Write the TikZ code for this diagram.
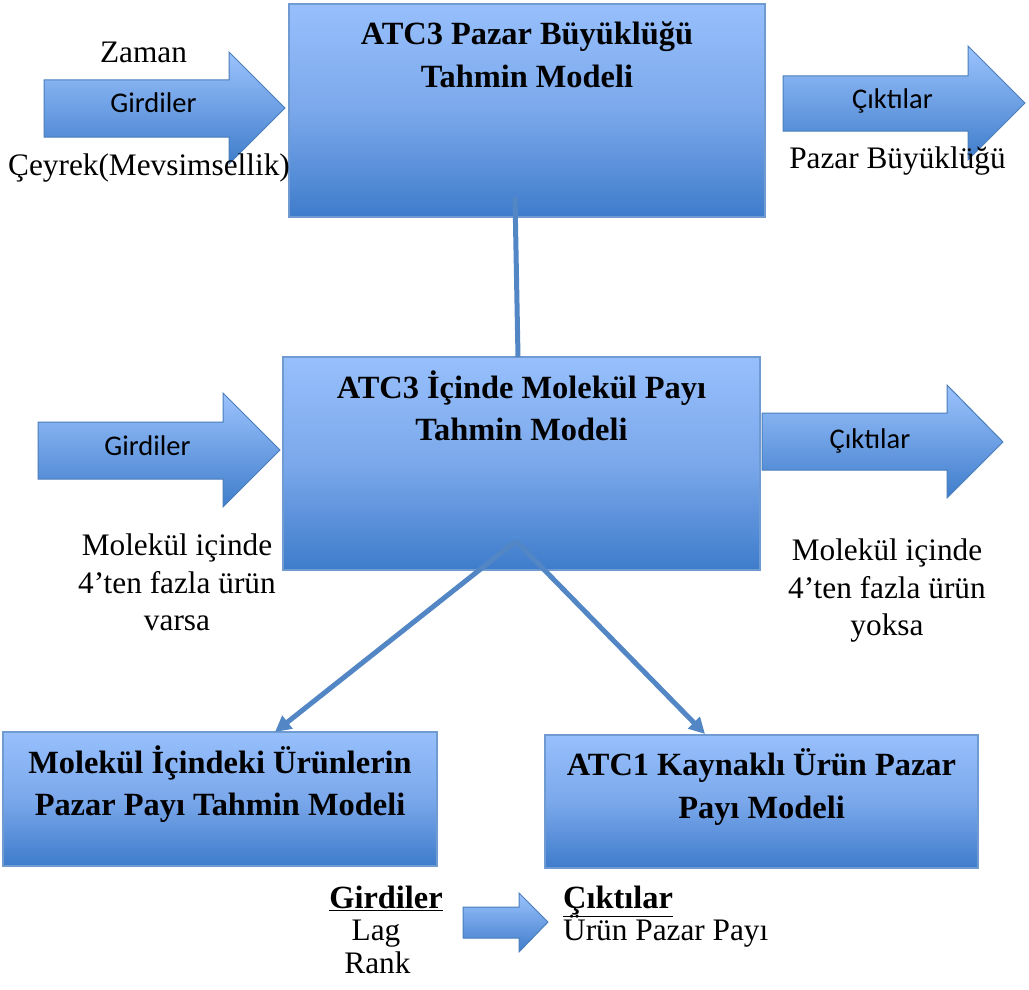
\documentclass[tikz,border=0pt]{standalone}
\usepackage{fontspec}
\setmainfont{Liberation Serif}
\newfontfamily\labelsans{Carlito}
\usetikzlibrary{arrows.meta}

\definecolor{boxtop}{HTML}{97BFFC}
\definecolor{boxmid}{HTML}{7BA8EB}
\definecolor{boxbot}{HTML}{3E7CCB}
\definecolor{boxedge}{HTML}{6F9AD2}
\definecolor{arrtop}{HTML}{9CC3FD}
\definecolor{arrbot}{HTML}{3F7DCB}
\definecolor{arredge}{HTML}{4A7EBB}
\definecolor{linkblue}{HTML}{5386C4}

\tikzset{
  box/.style={rectangle, draw=boxedge, line width=1.2pt, inner sep=0pt,
    top color=boxtop, bottom color=boxbot, middle color=boxmid},
  flow/.style={draw=arredge, line width=1pt, top color=arrtop, bottom color=arrbot},
  title/.style={font=\bfseries\fontsize{32.4}{38}\selectfont, anchor=base, inner sep=0pt},
  plain/.style={font=\fontsize{31.3}{37}\selectfont, anchor=base, inner sep=0pt},
  tag/.style={font=\labelsans\fontsize{28.5}{34}\selectfont, anchor=base, inner sep=0pt},
  link/.style={draw=linkblue, line width=5pt},
  linkarrow/.style={link, -{Triangle[length=16pt,width=16pt]}},
}

\begin{document}
\begin{tikzpicture}[x=1pt,y=-1pt]
\useasboundingbox (0,0) rectangle (1029,990);

% model boxes
\node[box, minimum width=476pt, minimum height=213pt] (size) at (527,110.5) {};
\node[box, minimum width=477pt, minimum height=213pt] (share) at (521.5,463.5) {};
\node[box, minimum width=434pt, minimum height=134pt] (prod) at (220,799) {};
\node[box, minimum width=433pt, minimum height=133pt] (atc1) at (761.5,801.5) {};

% block arrows: inputs and outputs
\path[flow] (44,80) -- (229,80) -- (229,52) -- (285,108) -- (229,164) -- (229,137) -- (44,137) -- cycle;
\path[flow] (783,76) -- (968,76) -- (968,46) -- (1025,103) -- (968,160) -- (968,131) -- (783,131) -- cycle;
\path[flow] (38,422) -- (223,422) -- (223,393) -- (280,450) -- (223,507) -- (223,479) -- (38,479) -- cycle;
\path[flow] (762,413) -- (947,413) -- (947,385) -- (1003,442) -- (947,498) -- (947,470) -- (762,470) -- cycle;
\path[flow] (463,907) -- (519,907) -- (519,893) -- (548,922) -- (519,952) -- (519,938) -- (463,938) -- cycle;

% connectors between the models
\coordinate (stem) at (515,197);
\coordinate (sharetop) at (518,357);
\coordinate (fork) at (516,541);
\coordinate (prodin) at (275,732);
\coordinate (atc1in) at (705,734);
\draw[link] (stem) -- (sharetop);
\draw[linkarrow] (fork) -- (prodin);
\draw[linkarrow] (fork) -- (atc1in);

% model titles
\node[title] (sizeA) at (527,45) {ATC3 Pazar Büyüklüğü};
\node[title] (sizeB) at (527,88) {Tahmin Modeli};
\node[title] (shareA) at (521.5,398) {ATC3 İçinde Molekül Payı};
\node[title] (shareB) at (521.5,440) {Tahmin Modeli};
\node[title] (prodA) at (220,773) {Molekül İçindeki Ürünlerin};
\node[title] (prodB) at (220,815) {Pazar Payı Tahmin Modeli};
\node[title] (atc1A) at (761.5,775) {ATC1 Kaynaklı Ürün Pazar};
\node[title] (atc1B) at (761.5,818) {Payı Modeli};

% arrow labels
\node[tag] (in1) at (153.5,113) {Girdiler};
\node[tag] (out1) at (892.5,108) {Çıktılar};
\node[tag] (in2) at (147.5,455) {Girdiler};
\node[tag] (out2) at (870,448) {Çıktılar};

% variables and conditions
\node[plain] (zaman) at (143.5,63) {Zaman};
\node[plain] (ceyrek) at (149,175) {Çeyrek(Mevsimsellik)};
\node[plain] (pbuy) at (897.5,168) {Pazar Büyüklüğü};
\node[plain] (condL1) at (177,555) {Molekül içinde};
\node[plain] (condL2) at (177,593) {4’ten fazla ürün};
\node[plain] (condL3) at (177,630) {varsa};
\node[plain] (condR1) at (887,560) {Molekül içinde};
\node[plain] (condR2) at (887,598) {4’ten fazla ürün};
\node[plain] (condR3) at (887,635) {yoksa};

% inputs and output of the product share model
\node[title] (inhead) at (386,908) {\underline{Girdiler}};
\node[plain] (lag) at (376,940) {Lag};
\node[plain] (rank) at (377.5,973) {Rank};
\node[title, anchor=base west] (outhead) at (563,908) {\underline{Çıktılar}};
\node[plain, anchor=base west] (urun) at (563,940) {Ürün Pazar Payı};
\end{tikzpicture}
\end{document}
